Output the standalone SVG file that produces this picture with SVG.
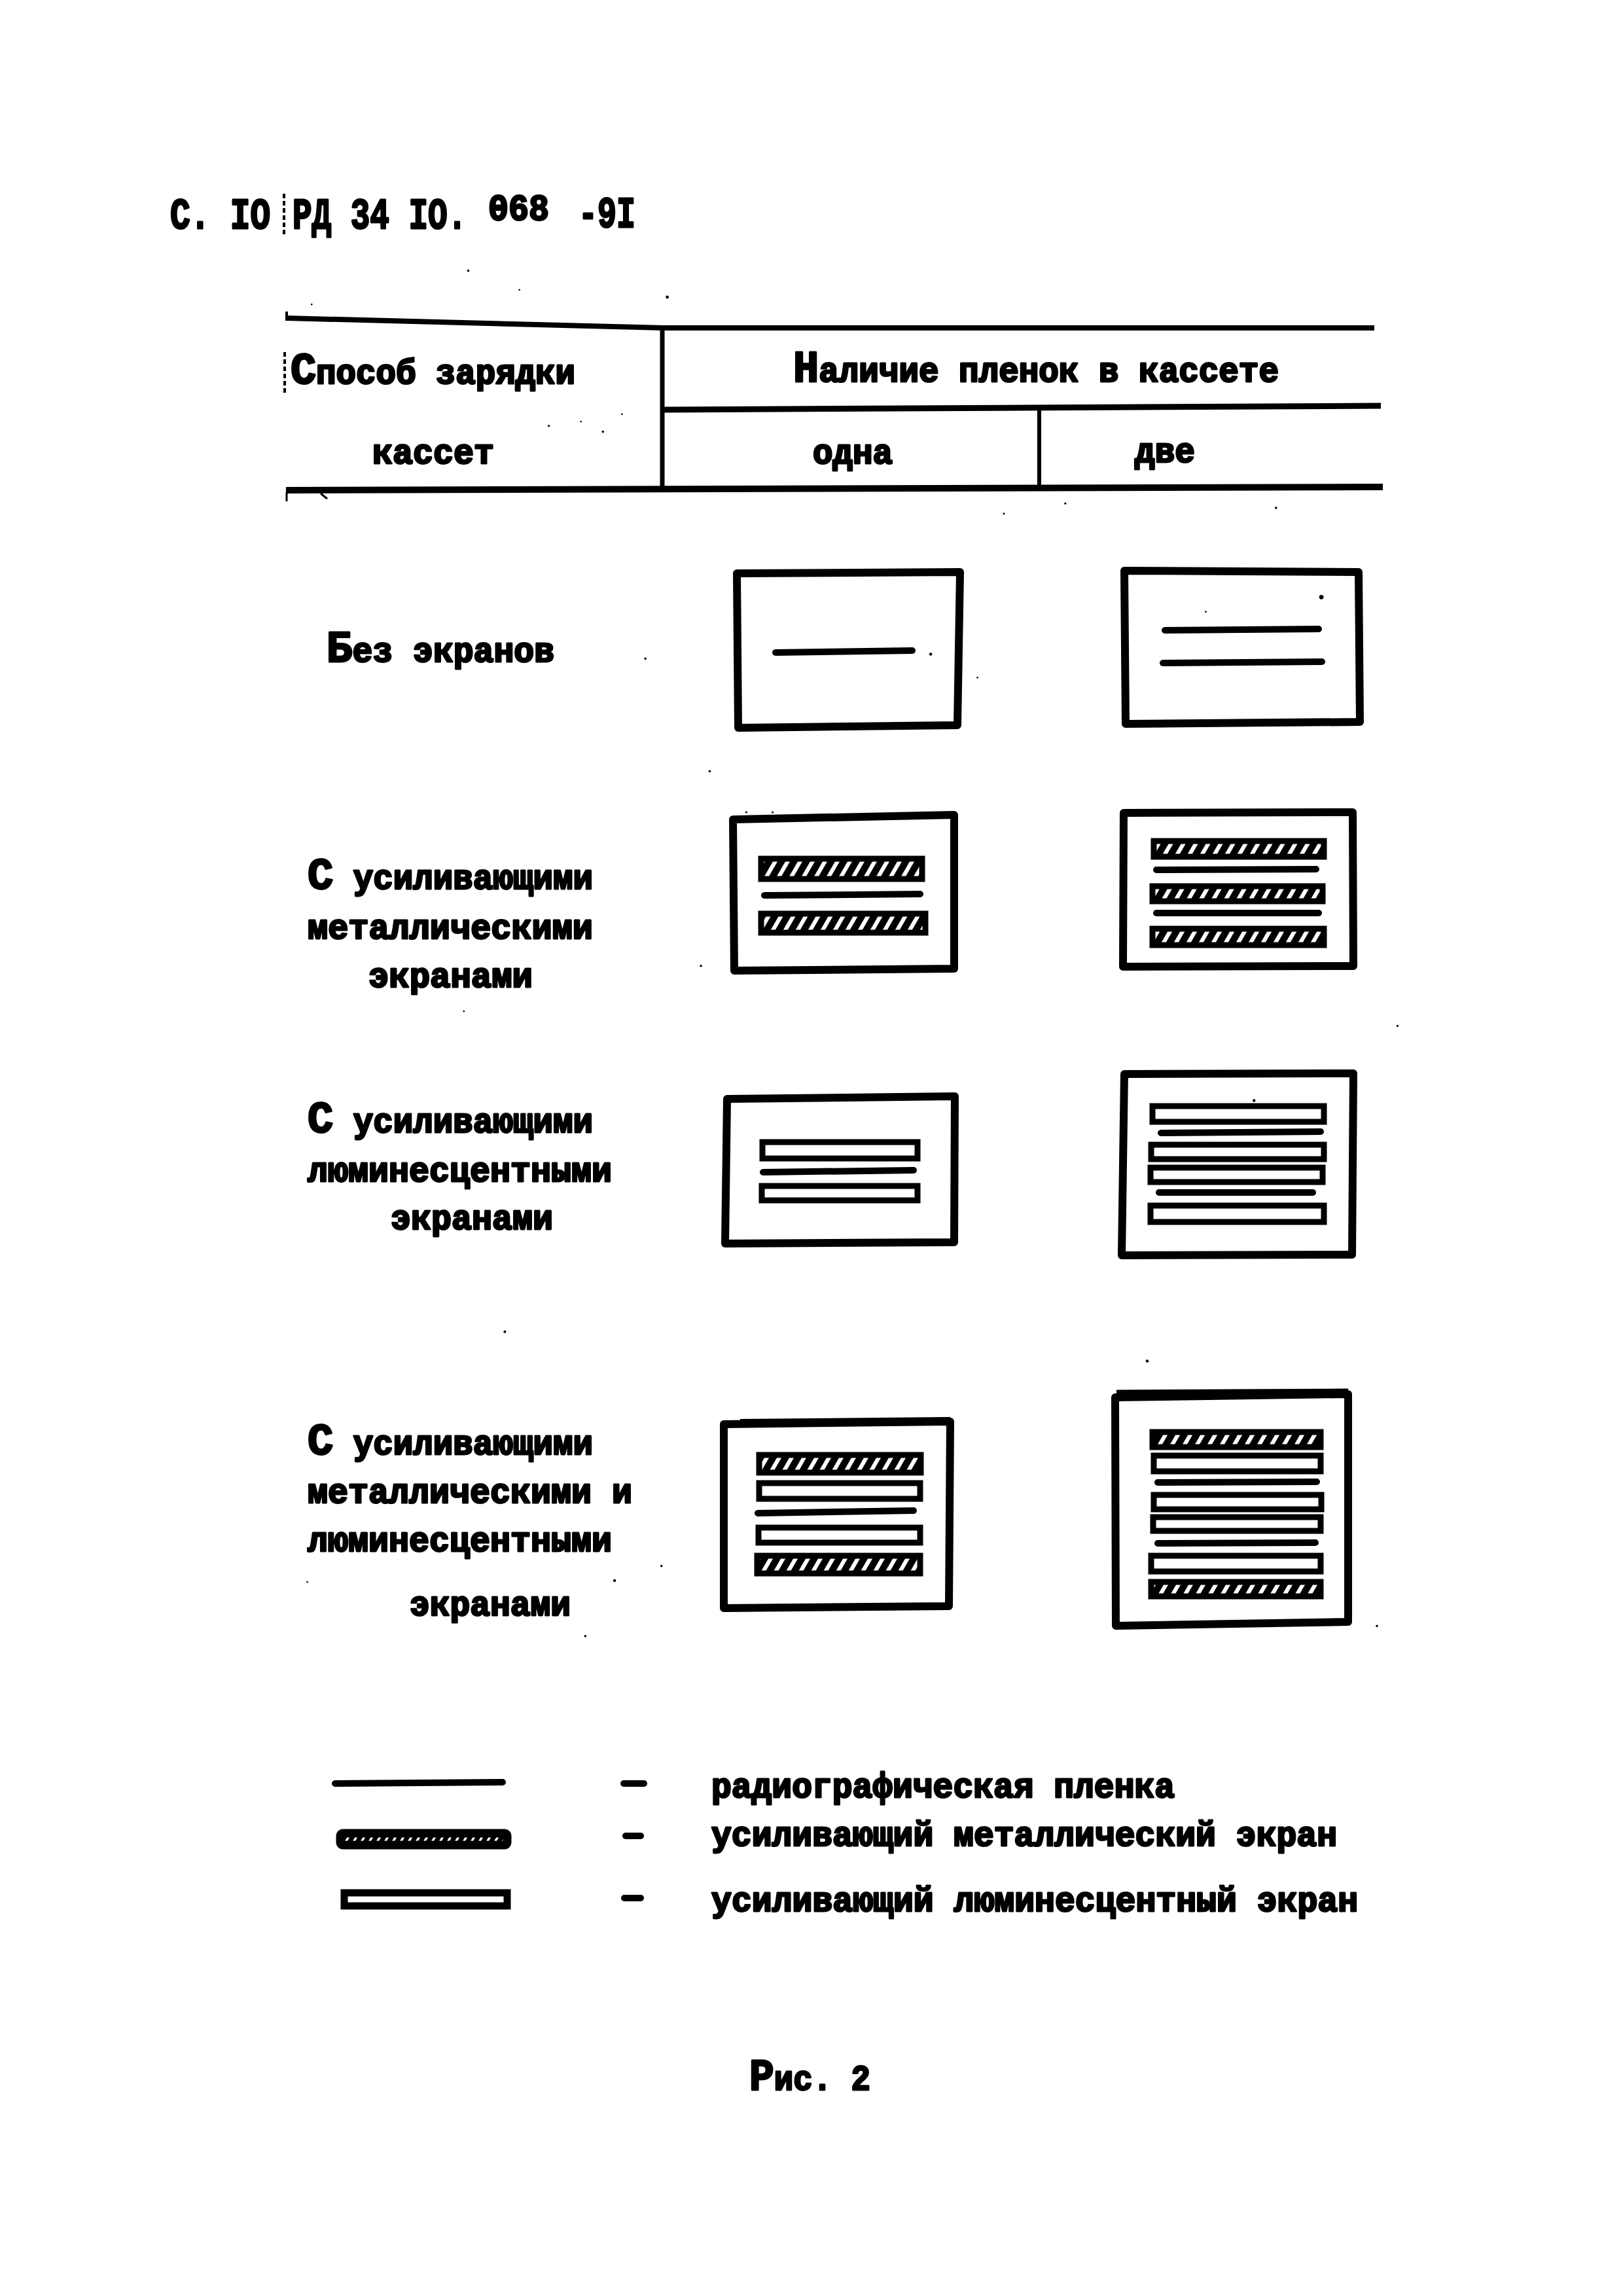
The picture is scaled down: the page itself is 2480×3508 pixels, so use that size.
<svg xmlns="http://www.w3.org/2000/svg" width="2480" height="3508" viewBox="0 0 2480 3508">
<style>
text{font-family:"Liberation Mono","DejaVu Sans Mono",monospace;font-weight:700;font-size:53px;fill:#000;stroke:#000;stroke-width:3px;stroke-linejoin:round}
.cap{font-size:68px}
.head{font-size:66px}
.small{font-size:56px}
.frame{fill:#fff;stroke:#000;stroke-width:12;stroke-linejoin:round}
.film{stroke:#000;stroke-width:10;stroke-linecap:round;fill:none}
.lum{fill:#fff;stroke:#000;stroke-width:9}
.metal{fill:url(#hatch);stroke:#000;stroke-width:9}
.rule{stroke:#000;fill:none}
.dash{fill:none;stroke:#000;stroke-width:4;stroke-dasharray:7 4}
</style>
<defs>
<pattern id="hatch" patternUnits="userSpaceOnUse" width="19" height="19" patternTransform="skewX(-30)">
<rect width="19" height="19" fill="#000"/><rect x="3" width="7" height="19" fill="#fff"/>
</pattern>
<pattern id="hatchSmall" patternUnits="userSpaceOnUse" width="12" height="12" patternTransform="skewX(-30)">
<rect width="12" height="12" fill="#000"/><rect x="3" width="4" height="12" fill="#fff"/>
</pattern>
</defs>
<rect width="2480" height="3508" fill="#fff"/>

<g id="header">
<text class="head" transform="translate(260 349) scale(.773 1)">С. IO</text>
<text class="head" transform="translate(447 349) scale(.747 1)">РД 34 IO.</text>
<text class="small" transform="translate(746 336) scale(.923 1)">068</text>
<text class="head" transform="translate(884 347) scale(.732 1)">-9I</text>
<line class="dash" x1="434" y1="296" x2="434" y2="361"/>
</g>

<g id="table">
<path class="rule" stroke-width="8" d="M437 486L1015 501L2100 501"/>
<path class="rule" stroke-width="4" d="M438 476V490"/>
<path class="rule" stroke-width="7" d="M1012 503V746"/>
<path class="rule" stroke-width="9" d="M1012 626L2110 620"/>
<path class="rule" stroke-width="6" d="M1588 624V746"/>
<path class="rule" stroke-width="10" d="M437 749L2113 744"/>
<path class="rule" stroke-width="3" d="M438 752V766M490 754L500 762"/>
<line class="dash" x1="435" y1="538" x2="435" y2="602"/>
</g>
<g id="table-labels">
<text x="444" y="586" textLength="435" lengthAdjust="spacingAndGlyphs"><tspan class="cap">С</tspan>пособ зарядки</text>
<text x="1212" y="583" textLength="742" lengthAdjust="spacingAndGlyphs"><tspan class="cap">Н</tspan>аличие пленок в кассете</text>
<text x="569" y="708" textLength="186" lengthAdjust="spacingAndGlyphs">кассет</text>
<text x="1242" y="708" textLength="122" lengthAdjust="spacingAndGlyphs">одна</text>
<text x="1734" y="706" textLength="92" lengthAdjust="spacingAndGlyphs">две</text>
</g>

<g id="row-labels">
<text x="499" y="1011" textLength="348" lengthAdjust="spacingAndGlyphs"><tspan class="cap">Б</tspan>ез экранов</text>
<text x="470" y="1358" textLength="436" lengthAdjust="spacingAndGlyphs"><tspan class="cap">С</tspan> усиливающими</text>
<text x="470" y="1434" textLength="436" lengthAdjust="spacingAndGlyphs">металлическими</text>
<text x="563" y="1508" textLength="251" lengthAdjust="spacingAndGlyphs">экранами</text>
<text x="470" y="1730" textLength="436" lengthAdjust="spacingAndGlyphs"><tspan class="cap">С</tspan> усиливающими</text>
<text x="470" y="1805" textLength="465" lengthAdjust="spacingAndGlyphs">люминесцентными</text>
<text x="597" y="1878" textLength="248" lengthAdjust="spacingAndGlyphs">экранами</text>
<text x="470" y="2222" textLength="436" lengthAdjust="spacingAndGlyphs"><tspan class="cap">С</tspan> усиливающими</text>
<text x="470" y="2296" textLength="496" lengthAdjust="spacingAndGlyphs">металлическими и</text>
<text x="470" y="2370" textLength="465" lengthAdjust="spacingAndGlyphs">люминесцентными</text>
<text x="626" y="2468" textLength="246" lengthAdjust="spacingAndGlyphs">экранами</text>
</g>

<g id="cassette-none-one">
<path class="frame" d="M1126 876L1467 874L1463 1108L1128 1112Z"/>
<line class="film" x1="1185" y1="997" x2="1394" y2="994"/>
</g>
<g id="cassette-none-two">
<path class="frame" d="M1718 872L2076 874L2078 1103L1720 1106Z"/>
<line class="film" x1="1780" y1="963" x2="2015" y2="961"/>
<line class="film" x1="1777" y1="1013" x2="2020" y2="1011"/>
</g>

<g id="cassette-metal-one">
<path class="frame" d="M1120 1252L1458 1245L1458 1480L1122 1483Z"/>
<rect class="metal" x="1163" y="1312" width="246" height="31"/>
<line class="film" x1="1168" y1="1368" x2="1406" y2="1366"/>
<rect class="metal" x="1163" y="1396" width="251" height="29"/>
</g>
<g id="cassette-metal-two">
<path class="frame" d="M1717 1242L2067 1241L2068 1476L1716 1477Z"/>
<rect class="metal" x="1763" y="1285" width="260" height="24"/>
<line class="film" x1="1767" y1="1329" x2="2011" y2="1328"/>
<rect class="metal" x="1761" y="1354" width="260" height="23"/>
<line class="film" x1="1767" y1="1395" x2="2015" y2="1395"/>
<rect class="metal" x="1761" y="1419" width="262" height="25"/>
</g>

<g id="cassette-lum-one">
<path class="frame" d="M1111 1679L1459 1675L1458 1898L1108 1900Z"/>
<rect class="lum" x="1165" y="1745" width="237" height="25"/>
<line class="film" x1="1166" y1="1791" x2="1396" y2="1788"/>
<rect class="lum" x="1164" y="1812" width="238" height="22"/>
</g>
<g id="cassette-lum-two">
<path class="frame" d="M1718 1641L2068 1640L2066 1917L1714 1918Z"/>
<rect class="lum" x="1761" y="1690" width="262" height="24"/>
<line class="film" x1="1774" y1="1731" x2="2018" y2="1729"/>
<rect class="lum" x="1759" y="1749" width="264" height="22"/>
<rect class="lum" x="1758" y="1784" width="263" height="22"/>
<line class="film" x1="1771" y1="1822" x2="2006" y2="1822"/>
<rect class="lum" x="1758" y="1842" width="265" height="25"/>
</g>

<g id="cassette-both-one">
<path class="frame" d="M1106 2176L1452 2172L1450 2454L1106 2457Z"/>
<path class="rule" stroke-width="8" d="M1131 2172L1452 2169"/>
<rect class="metal" x="1160" y="2223" width="247" height="27"/>
<rect class="lum" x="1160" y="2266" width="246" height="24"/>
<line class="film" x1="1158" y1="2312" x2="1396" y2="2308"/>
<rect class="lum" x="1159" y="2334" width="247" height="23"/>
<rect class="metal" x="1157" y="2377" width="249" height="27"/>
</g>
<g id="cassette-both-two">
<path class="frame" d="M1704 2135L2060 2130L2060 2478L1705 2484Z"/>
<path class="rule" stroke-width="11" d="M1706 2129L2060 2127"/>
<rect class="metal" x="1761" y="2188" width="257" height="23"/>
<rect class="lum" x="1763" y="2224" width="255" height="24"/>
<line class="film" x1="1769" y1="2265" x2="2012" y2="2264"/>
<rect class="lum" x="1763" y="2284" width="256" height="22"/>
<rect class="lum" x="1762" y="2318" width="256" height="21"/>
<line class="film" x1="1769" y1="2358" x2="2010" y2="2357"/>
<rect class="lum" x="1759" y="2377" width="259" height="24"/>
<rect class="metal" x="1759" y="2417" width="259" height="22"/>
</g>

<g id="legend">
<line class="film" x1="512" y1="2725" x2="768" y2="2723"/>
<rect x="520" y="2801" width="255" height="18" rx="4" fill="url(#hatchSmall)" stroke="#000" stroke-width="13"/>
<rect x="526" y="2892" width="249" height="20" fill="#fff" stroke="#000" stroke-width="11"/>
<line class="film" stroke-width="12" x1="953" y1="2725" x2="984" y2="2725"/>
<line class="film" x1="956" y1="2805" x2="979" y2="2805"/>
<line class="film" x1="954" y1="2900" x2="979" y2="2900"/>
<text x="1087" y="2746" textLength="708" lengthAdjust="spacingAndGlyphs">радиографическая пленка</text>
<text x="1087" y="2820" textLength="956" lengthAdjust="spacingAndGlyphs">усиливающий металлический экран</text>
<text x="1087" y="2920" textLength="988" lengthAdjust="spacingAndGlyphs">усиливающий люминесцентный экран</text>
</g>

<g id="caption">
<text x="1145" y="3193" textLength="185" lengthAdjust="spacingAndGlyphs"><tspan class="cap">Р</tspan>ис. 2</text>
</g>

<g id="specks" transform="scale(2.236)" fill="#000">
<circle cx="320" cy="185" r=".8"/><circle cx="355" cy="198" r=".6"/><circle cx="213" cy="208" r=".6"/><circle cx="456" cy="203" r="1.1"/>
<circle cx="375" cy="291" r=".7"/><circle cx="397" cy="288" r=".6"/><circle cx="412" cy="295" r=".8"/><circle cx="425" cy="283" r=".6"/>
<circle cx="686" cy="351" r=".7"/><circle cx="728" cy="344" r=".7"/><circle cx="872" cy="347" r=".8"/><circle cx="441" cy="450" r=".8"/>
<circle cx="485" cy="527" r=".8"/><circle cx="668" cy="463" r=".6"/><circle cx="479" cy="660" r=".8"/><circle cx="317" cy="691" r=".6"/>
<circle cx="955" cy="701" r=".7"/><circle cx="345" cy="910" r=".9"/><circle cx="784" cy="930" r="1"/><circle cx="210" cy="1081" r=".6"/>
<circle cx="420" cy="1080" r="1"/><circle cx="452" cy="1070" r=".8"/><circle cx="400" cy="1118" r=".8"/><circle cx="941" cy="1111" r=".8"/>
<circle cx="903" cy="408" r="1.5"/><circle cx="824" cy="418" r=".6"/><circle cx="636" cy="447" r="1"/><circle cx="510" cy="555" r=".7"/><circle cx="528" cy="555" r=".7"/><circle cx="857" cy="752" r="1"/>
</g>
</svg>
